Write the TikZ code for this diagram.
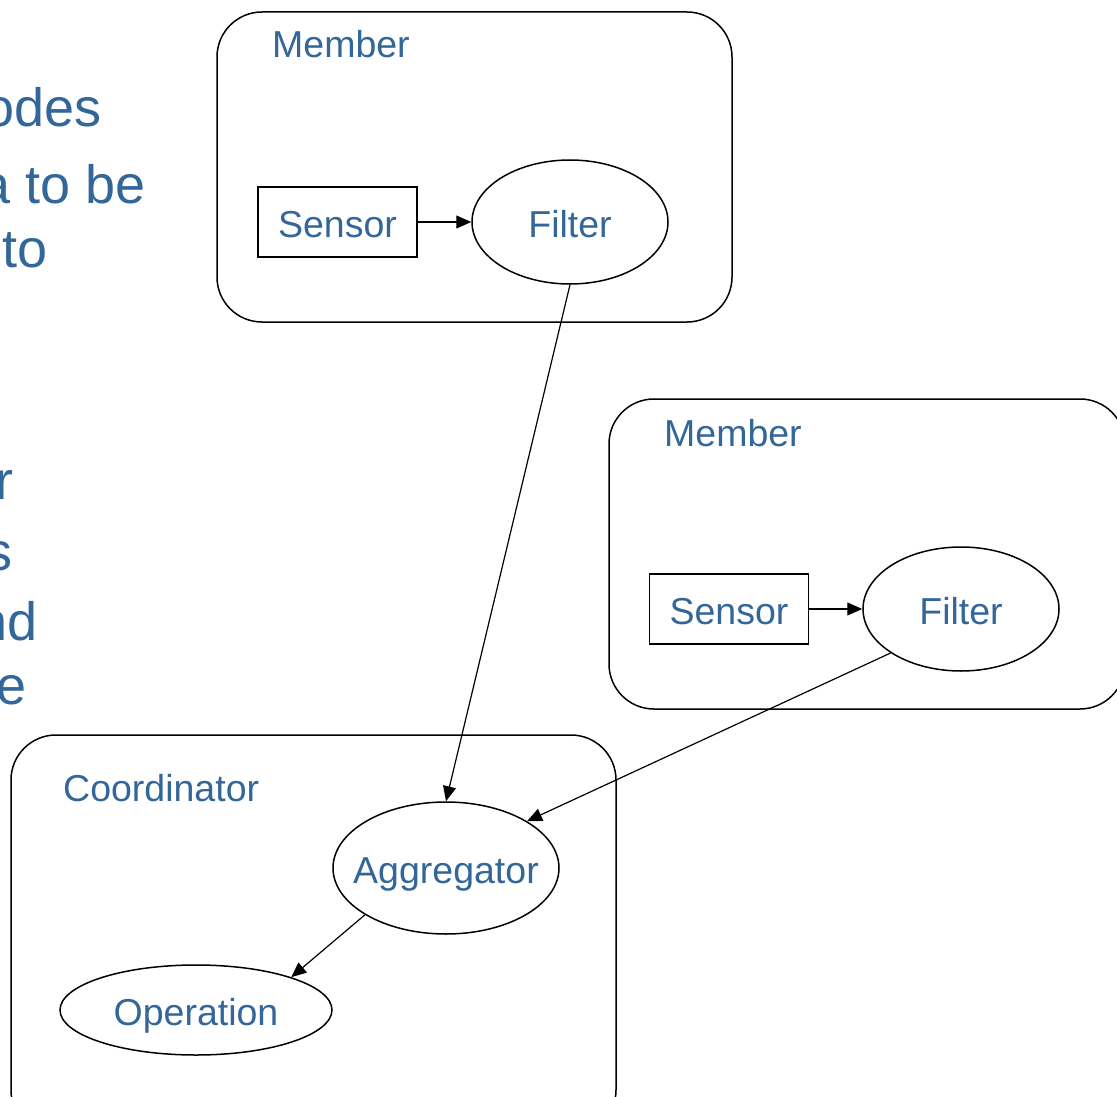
\documentclass[tikz,border=0pt]{standalone}
\usepackage{fontspec}
\setmainfont{Liberation Sans}
\usetikzlibrary{shapes.geometric,arrows.meta}
\definecolor{txtblue}{RGB}{51,102,153}
\tikzset{
  every node/.style={text=txtblue},
  lbl/.style={font=\fontsize{37.5}{45}\selectfont},
  slide/.style={font=\fontsize{54}{62}\selectfont, anchor=base east, inner sep=0pt},
  group/.style={draw=black, line width=1.5pt, rounded corners=45pt, inner sep=0pt},
  grouplbl/.style={lbl, anchor=base west, inner sep=0pt},
  sensorbox/.style={draw=black, line width=1.5pt, lbl, minimum width=159pt, minimum height=70pt, inner sep=0pt},
  oval/.style={draw=black, line width=1.5pt, ellipse, lbl, inner sep=0pt},
  flow/.style={line width=1.2pt, -{Triangle[length=15pt,width=13pt]}}
}
% centred text that takes no room, so the shape keeps its own size
\newcommand{\ctext}[1]{\raisebox{-15.5pt}[0pt][0pt]{\makebox[0pt]{#1}}}
\begin{document}
\begin{tikzpicture}[x=1pt, y=-1pt]
\clip (0,0) rectangle (1117,1097);

% text of the slide, cut off by the left edge
\node[slide] (t1) at (102,127) {odes};
\node[slide] (t2) at (146,204) {a to be};
\node[slide] (t3) at (48,267) {to};
\node[slide] (t4) at (14,499) {r};
\node[slide] (t5) at (13,570) {s};
\node[slide] (t6) at (38,640) {nd};
\node[slide] (t7) at (27,704) {e};

% upper member
\node[group, minimum width=515pt, minimum height=310pt] (m1) at (474.5,167) {};
\node[grouplbl] (m1lbl) at (272,58) {Member};
\node[sensorbox] (s1) at (337.5,222) {\ctext{Sensor}};
\node[oval, minimum width=196pt, minimum height=124pt] (f1) at (570,222) {\ctext{Filter}};

% right member
\node[group, minimum width=516pt, minimum height=310pt] (m2) at (867,554) {};
\node[grouplbl] (m2lbl) at (664,446) {Member};
\node[sensorbox] (s2) at (729,609) {\ctext{Sensor}};
\node[oval, minimum width=196pt, minimum height=124pt] (f2) at (961,609) {\ctext{Filter}};

% coordinator
\node[group, minimum width=605pt, minimum height=400pt] (c) at (313.5,935) {};
\node[grouplbl] (clbl) at (63,801) {Coordinator};
\node[oval, minimum width=226pt, minimum height=132pt] (agg) at (446,868) {\ctext{Aggregator}};
\node[oval, minimum width=272pt, minimum height=90pt] (op) at (196,1010) {\ctext{Operation}};

% connectors
\draw[flow] (s1) -- (f1);
\draw[flow] (s2) -- (f2);
\draw[flow] (f1.south) -- (agg.north);
\draw[flow] (f2.212) -- (agg.30);
\draw[flow] (agg.210) -- (op.19);
\end{tikzpicture}
\end{document}
